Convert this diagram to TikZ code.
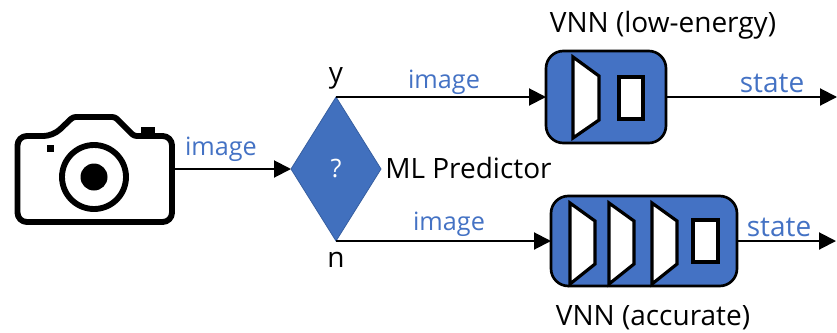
\documentclass[tikz,border=0pt]{standalone}
\usepackage{fontspec}
\setmainfont{Open Sans}
\usetikzlibrary{shapes.geometric,arrows.meta}
\definecolor{bluefill}{HTML}{4472C4}
\definecolor{diamfill}{HTML}{4170BE}
\tikzset{
  px/.style={x=0.75pt,y=-0.75pt},
  conn/.style={draw=black,line width=1.5pt,-{Triangle[length=12.75pt,width=12.75pt]}},
  vnnbox/.style={draw=black,fill=bluefill,line width=2pt,rounded corners=13pt,inner sep=0pt,outer sep=0pt},
  block/.style={draw=black,fill=white,line width=2.4pt,line join=miter},
  cam/.style={draw=black,line width=4.4pt,line join=round,fill=white},
  bluelabel/.style={text=bluefill,font=\fontsize{18.9pt}{22pt}\selectfont,inner sep=0pt},
  statelabel/.style={text=bluefill,font=\fontsize{21pt}{24pt}\selectfont,inner sep=0pt},
  blacklabel/.style={text=black,font=\fontsize{21pt}{24pt}\selectfont,inner sep=0pt},
  decision/.style={diamond,aspect=0.625,fill=diamfill,draw=diamfill!85!black,line width=0.6pt,inner sep=0pt,outer sep=0pt,minimum width=67.5pt,minimum height=108pt,text=white,font=\fontsize{19pt}{20pt}\selectfont}
}
\begin{document}
\begin{tikzpicture}[px]
\useasboundingbox (0,0) rectangle (837,332);
% camera
\draw[cam,rounded corners=7pt] (17.5,136) -- (53,136) [rounded corners=2pt] -- (73,117) -- (115,117) -- (134,136) [rounded corners=7pt] -- (172,136) -- (172,222) -- (17.5,222) -- cycle;
\fill (141,127) rectangle (155,136);
\fill (47,145) rectangle (54,152);
\draw[draw=black,line width=4.4pt] (94,177) circle[radius=32];
\fill (94,177) circle[radius=13.5];
\node[minimum width=120.75pt,minimum height=66pt,inner sep=0pt] (camera) at (94.5,179) {};
% predictor
\node[decision] (pred) at (336,169) {?};
\node[blacklabel,anchor=west] (mllabel) at (385,168) {ML Predictor};
\node[blacklabel] (ylabel) at (336,78) {y};
\node[blacklabel] (nlabel) at (336,260) {n};
% VNN boxes
\node[vnnbox,minimum width=90pt,minimum height=69pt] (vnnlow) at (606,97) {};
\node[vnnbox,minimum width=139.5pt,minimum height=67.5pt] (vnnacc) at (644,241) {};
\foreach \xa/\xb in {573/599} \draw[block] (\xa,57) -- (\xb,76) -- (\xb,120) -- (\xa,138) -- cycle;
\draw[block] (619,77) rectangle (643,119);
\foreach \xa/\xb in {570/595,609/634,652/677} \draw[block] (\xa,203) -- (\xb,221) -- (\xb,264) -- (\xa,284) -- cycle;
\draw[block] (693,220) rectangle (718,262);
\node[blacklabel] (lowlabel) at (663,25) {VNN (low-energy)};
\node[blacklabel] (acclabel) at (653,318) {VNN (accurate)};
% connectors
\coordinate (outlow) at (837,97);
\coordinate (outacc) at (836,241);
\draw[conn] (camera.east |- pred.west) -- (pred.west);
\draw[conn] (pred.north) -- (vnnlow.west);
\draw[conn] (pred.south) -- (vnnacc.west);
\draw[conn] (vnnlow.east) -- (outlow);
\draw[conn] (vnnacc.east) -- (outacc);
% labels
\node[bluelabel] (img1) at (221,149) {image};
\node[bluelabel] (img2) at (444,82) {image};
\node[bluelabel] (img3) at (449,224) {image};
\node[statelabel] (st1) at (772,83) {state};
\node[statelabel] (st2) at (779,227) {state};
\end{tikzpicture}
\end{document}
